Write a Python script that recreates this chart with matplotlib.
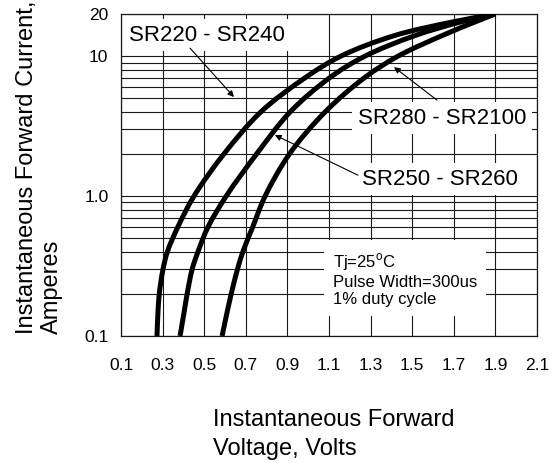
import matplotlib
matplotlib.use("Agg")
import numpy as np
import matplotlib.pyplot as plt
from matplotlib.path import Path
from matplotlib.patches import PathPatch
from matplotlib.ticker import LogLocator, NullFormatter, FixedLocator

plt.rcParams['font.family'] = ['Liberation Sans', 'DejaVu Sans']
plt.rcParams['mathtext.fontset'] = 'custom'
plt.rcParams['mathtext.rm'] = 'Liberation Sans'

# ---- data ----
# forward current levels (A) at which the voltage of each curve was read
i_levels = [0.1, 0.15, 0.2, 0.3, 0.4, 0.6, 1.0, 2.0, 4.0, 7.0, 10.0, 14.0, 17.5, 20.0]
v_sr220 = [0.273, 0.278, 0.284, 0.302, 0.323, 0.373, 0.451, 0.595, 0.773, 0.985,
           1.157, 1.413, 1.690, 1.9]
v_sr250 = [0.384, 0.404, 0.418, 0.442, 0.470, 0.518, 0.606, 0.752, 0.914, 1.103,
           1.273, 1.512, 1.730, 1.9]
v_sr280 = [0.586, 0.611, 0.630, 0.660, 0.686, 0.733, 0.793, 0.910, 1.082, 1.270,
           1.432, 1.643, 1.800, 1.9]

x_ticks = [0.1, 0.3, 0.5, 0.7, 0.9, 1.1, 1.3, 1.5, 1.7, 1.9, 2.1]
x_tick_labels = ['0.1', '0.3', '0.5', '0.7', '0.9', '1.1', '1.3', '1.5', '1.7', '1.9', '2.1']
y_ticks = [0.1, 1.0, 10, 20]
y_tick_labels = ['0.1', '1.0', '10', '20']

label_220 = 'SR220 - SR240'
label_250 = 'SR250 - SR260'
label_280 = 'SR280 - SR2100'
cond_text = 'Tj=25$^\\mathregular{o}$C\nPulse Width=300us\n1% duty cycle'


def smooth_curve_path(v, i, sx=208.0, sy=140.0, alpha=0.5):
    """Smooth Bezier path through the read points (centripetal Catmull-Rom ->
    cubic Bezier), built in (V, log10 I) space so it is smooth on the log axis."""
    P = np.column_stack([np.asarray(v, float) * sx, np.log10(i) * sy])
    n = len(P)
    ext = np.vstack([2 * P[0] - P[1], P, 2 * P[-1] - P[-2]])
    verts = [P[0]]
    codes = [Path.MOVETO]
    for k in range(n - 1):
        p0, p1, p2, p3 = ext[k], ext[k + 1], ext[k + 2], ext[k + 3]
        d0 = max(np.linalg.norm(p1 - p0) ** alpha, 1e-9)
        d1 = max(np.linalg.norm(p2 - p1) ** alpha, 1e-9)
        d2 = max(np.linalg.norm(p3 - p2) ** alpha, 1e-9)
        t1 = (p1 - p0) / d0 - (p2 - p0) / (d0 + d1) + (p2 - p1) / d1
        t2 = (p2 - p1) / d1 - (p3 - p1) / (d1 + d2) + (p3 - p2) / d2
        c1 = p1 + t1 * d1 / 3.0
        c2 = p2 - t2 * d1 / 3.0
        verts += [c1, c2, p2]
        codes += [Path.CURVE4] * 3
    verts = np.array(verts)
    verts[:, 0] = verts[:, 0] / sx
    verts[:, 1] = 10 ** (verts[:, 1] / sy)
    return Path(verts, codes)


# ---- figure ----
W, H = 558, 463
fig = plt.figure(figsize=(W / 100, H / 100), dpi=100)
ax = fig.add_axes([121 / W, 1 - 336 / H, (537 - 121) / W, (336 - 14) / H])

ax.set_yscale('log')
ax.set_xlim(0.1, 2.1)
ax.set_ylim(0.1, 20)

ax.xaxis.set_major_locator(FixedLocator(x_ticks))
ax.set_xticklabels(x_tick_labels)
ax.yaxis.set_major_locator(FixedLocator(y_ticks))
ax.set_yticklabels(y_tick_labels)
ax.yaxis.set_minor_locator(LogLocator(base=10, subs=[2, 3, 4, 5, 6, 7, 8, 9]))
ax.yaxis.set_minor_formatter(NullFormatter())

ax.tick_params(axis='both', which='both', length=0, labelsize=12.5)
ax.tick_params(axis='x', pad=16)
ax.tick_params(axis='y', pad=9)

ax.grid(True, which='major', axis='both', color='#1a1a1a', lw=0.8, zorder=1)
ax.grid(True, which='minor', axis='y', color='#1a1a1a', lw=0.8, zorder=1)
for s in ax.spines.values():
    s.set_color('#1a1a1a')
    s.set_linewidth(0.9)
ax.set_axisbelow(True)

for v in [v_sr220, v_sr250, v_sr280]:
    patch = PathPatch(smooth_curve_path(v, i_levels), fc='none', ec='black', lw=3.6,
                      capstyle='butt', joinstyle='round', zorder=4,
                      transform=ax.transData)
    patch.set_clip_path(ax.patch)
    ax.add_patch(patch)

box = dict(boxstyle='square,pad=0.25', fc='white', ec='none')
ax.text(0.513, 14.1, label_220, fontsize=16, ha='center', va='center',
        bbox=box, zorder=3)
ax.text(1.643, 3.61, label_280, fontsize=16, ha='center', va='center',
        bbox=box, zorder=3)
ax.text(1.634, 1.32, label_250, fontsize=16, ha='center', va='center',
        bbox=box, zorder=3)
ax.text(1.119, 0.40, cond_text, fontsize=12, ha='left', va='top',
        linespacing=1.15,
        bbox=dict(boxstyle='square,pad=0.55', fc='white', ec='none'), zorder=3)

arrow = dict(arrowstyle='-|>', color='black', lw=0.8, mutation_scale=9,
             shrinkA=0, shrinkB=0)
ax.annotate('', xy=(0.643, 5.1), xytext=(0.432, 11.4), arrowprops=arrow, zorder=5)
ax.annotate('', xy=(1.4125, 8.35), xytext=(1.619, 4.85), arrowprops=arrow, zorder=5)
ax.annotate('', xy=(0.840, 2.73), xytext=(1.239, 1.41), arrowprops=arrow, zorder=5)

fig.text(16 / W, 1 - 334 / H, 'Instantaneous Forward Current,\nAmperes',
         rotation=90, ha='left', va='bottom', multialignment='left',
         fontsize=17, linespacing=1.15)
fig.text(213 / W, 1 - 409 / H, 'Instantaneous Forward\nVoltage, Volts',
         ha='left', va='top', multialignment='left', fontsize=17,
         linespacing=1.42)

fig.savefig('out.png', dpi=100)
